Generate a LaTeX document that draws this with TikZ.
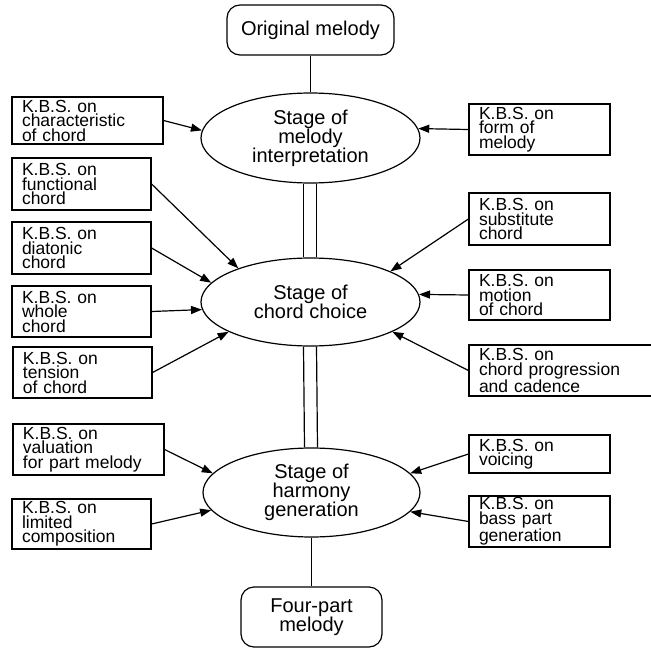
\documentclass[tikz,border=0pt]{standalone}
\usepackage{fontspec}
\setmainfont{Liberation Sans}
\usetikzlibrary{shapes.geometric,arrows.meta}

\tikzset{
  ln/.style={line width=1.2pt},
  stagebox/.style={ln, draw, rounded corners=13pt, align=center, inner sep=0pt,
    font={\fontsize{20}{19.5}\selectfont}},
  stage/.style={ln, draw, ellipse, inner sep=0pt, align=center,
    font={\fontsize{20}{19}\selectfont}},
  kbs/.style={ln, draw, rectangle, align=left, inner xsep=10pt, inner ysep=0pt,
    minimum height=51pt, font={\fontsize{17.5}{14.5}\selectfont}},
  feed/.style={ln, -{Triangle[length=11pt,width=8pt]}},
}

\begin{document}
\begin{tikzpicture}[x=1pt,y=-1pt]
\useasboundingbox (0,0) rectangle (651,648);

% main chain
\node[stagebox, minimum width=167pt, minimum height=50pt] (orig) at (310.5,30) {Original melody};
\node[stage, minimum width=219pt, minimum height=90pt] (e1) at (310.5,138) {Stage of\\melody\\interpretation};
\node[stage, minimum width=219pt, minimum height=88pt] (e2) at (310.5,302) {Stage of\\chord choice};
\node[stage, minimum width=217pt, minimum height=89pt] (e3) at (311.5,492.5) {Stage of\\harmony\\generation};
\node[stagebox, minimum width=141pt, minimum height=60pt] (four) at (311.5,617) {Four-part\\melody};

\draw[ln] (orig.south) -- (e1.north);
\draw[ln] ([xshift=-7pt]e1.south) -- ([xshift=-7pt]e2.north);
\draw[ln] ([xshift=6pt]e1.south) -- ([xshift=6pt]e2.north);
\draw[ln] ([xshift=-7pt]e2.south) -- ([xshift=-7pt]e3.north);
\draw[ln] ([xshift=6pt]e2.south) -- ([xshift=6pt]e3.north);
\draw[ln] (e3.south) -- (four.north);

% knowledge bases, left column
\node[kbs, text width=131pt, minimum height=47pt] (l1) at (87.5,120.5) {K.B.S. on\\characteristic\\of chord};
\node[kbs, text width=119pt, minimum height=52pt] (l2) at (81.5,184) {K.B.S. on\\functional\\chord};
\node[kbs, text width=119pt, minimum height=52pt] (l3) at (81.5,248) {K.B.S. on\\diatonic\\chord};
\node[kbs, text width=119pt] (l4) at (81.5,311.5) {K.B.S. on\\whole\\chord};
\node[kbs, text width=119pt] (l5) at (82.5,372.5) {K.B.S. on\\tension\\ of chord};
\node[kbs, text width=131pt] (l6) at (88.5,449.5) {K.B.S. on\\valuation\\for part melody};
\node[kbs, text width=119pt, minimum height=50pt] (l7) at (81.5,524) {K.B.S. on\\limited\\composition};

% knowledge bases, right column
\node[kbs, text width=121pt] (r1) at (539.5,129.5) {K.B.S. on\\form of\\melody};
\node[kbs, text width=121pt, minimum height=52pt] (r2) at (539.5,219) {K.B.S. on\\substitute\\chord};
\node[kbs, text width=121pt, minimum height=50pt] (r3) at (539.5,295) {K.B.S. on\\motion\\of chord};
\node[kbs, text width=171pt] (r4) at (564.5,370.5) {K.B.S. on\\chord progression\\and cadence};
\node[kbs, text width=121pt, minimum height=38pt] (r5) at (539.5,454) {K.B.S. on\\voicing};
\node[kbs, text width=121pt] (r6) at (539.5,521.5) {K.B.S. on\\bass part\\generation};

% feeds into the stages
\draw[feed] (l1.east) -- (e1.176);
\draw[feed] (r1.west) -- (e1.5);

\draw[feed] (l2.east) -- (e2.155);
\draw[feed] (l3.east) -- (e2.169);
\draw[feed] (l4.east) -- (e2.184);
\draw[feed] (l5.east) -- (e2.200);
\draw[feed] (r2.west) -- (e2.21);
\draw[feed] (r3.west) -- (e2.4);
\draw[feed] (r4.west) -- (e2.-20);

\draw[feed] (l6.east) -- (e3.169);
\draw[feed] (l7.east) -- (e3.190);
\draw[feed] (r5.west) -- (e3.11);
\draw[feed] (r6.west) -- (e3.-11);
\end{tikzpicture}
\end{document}
